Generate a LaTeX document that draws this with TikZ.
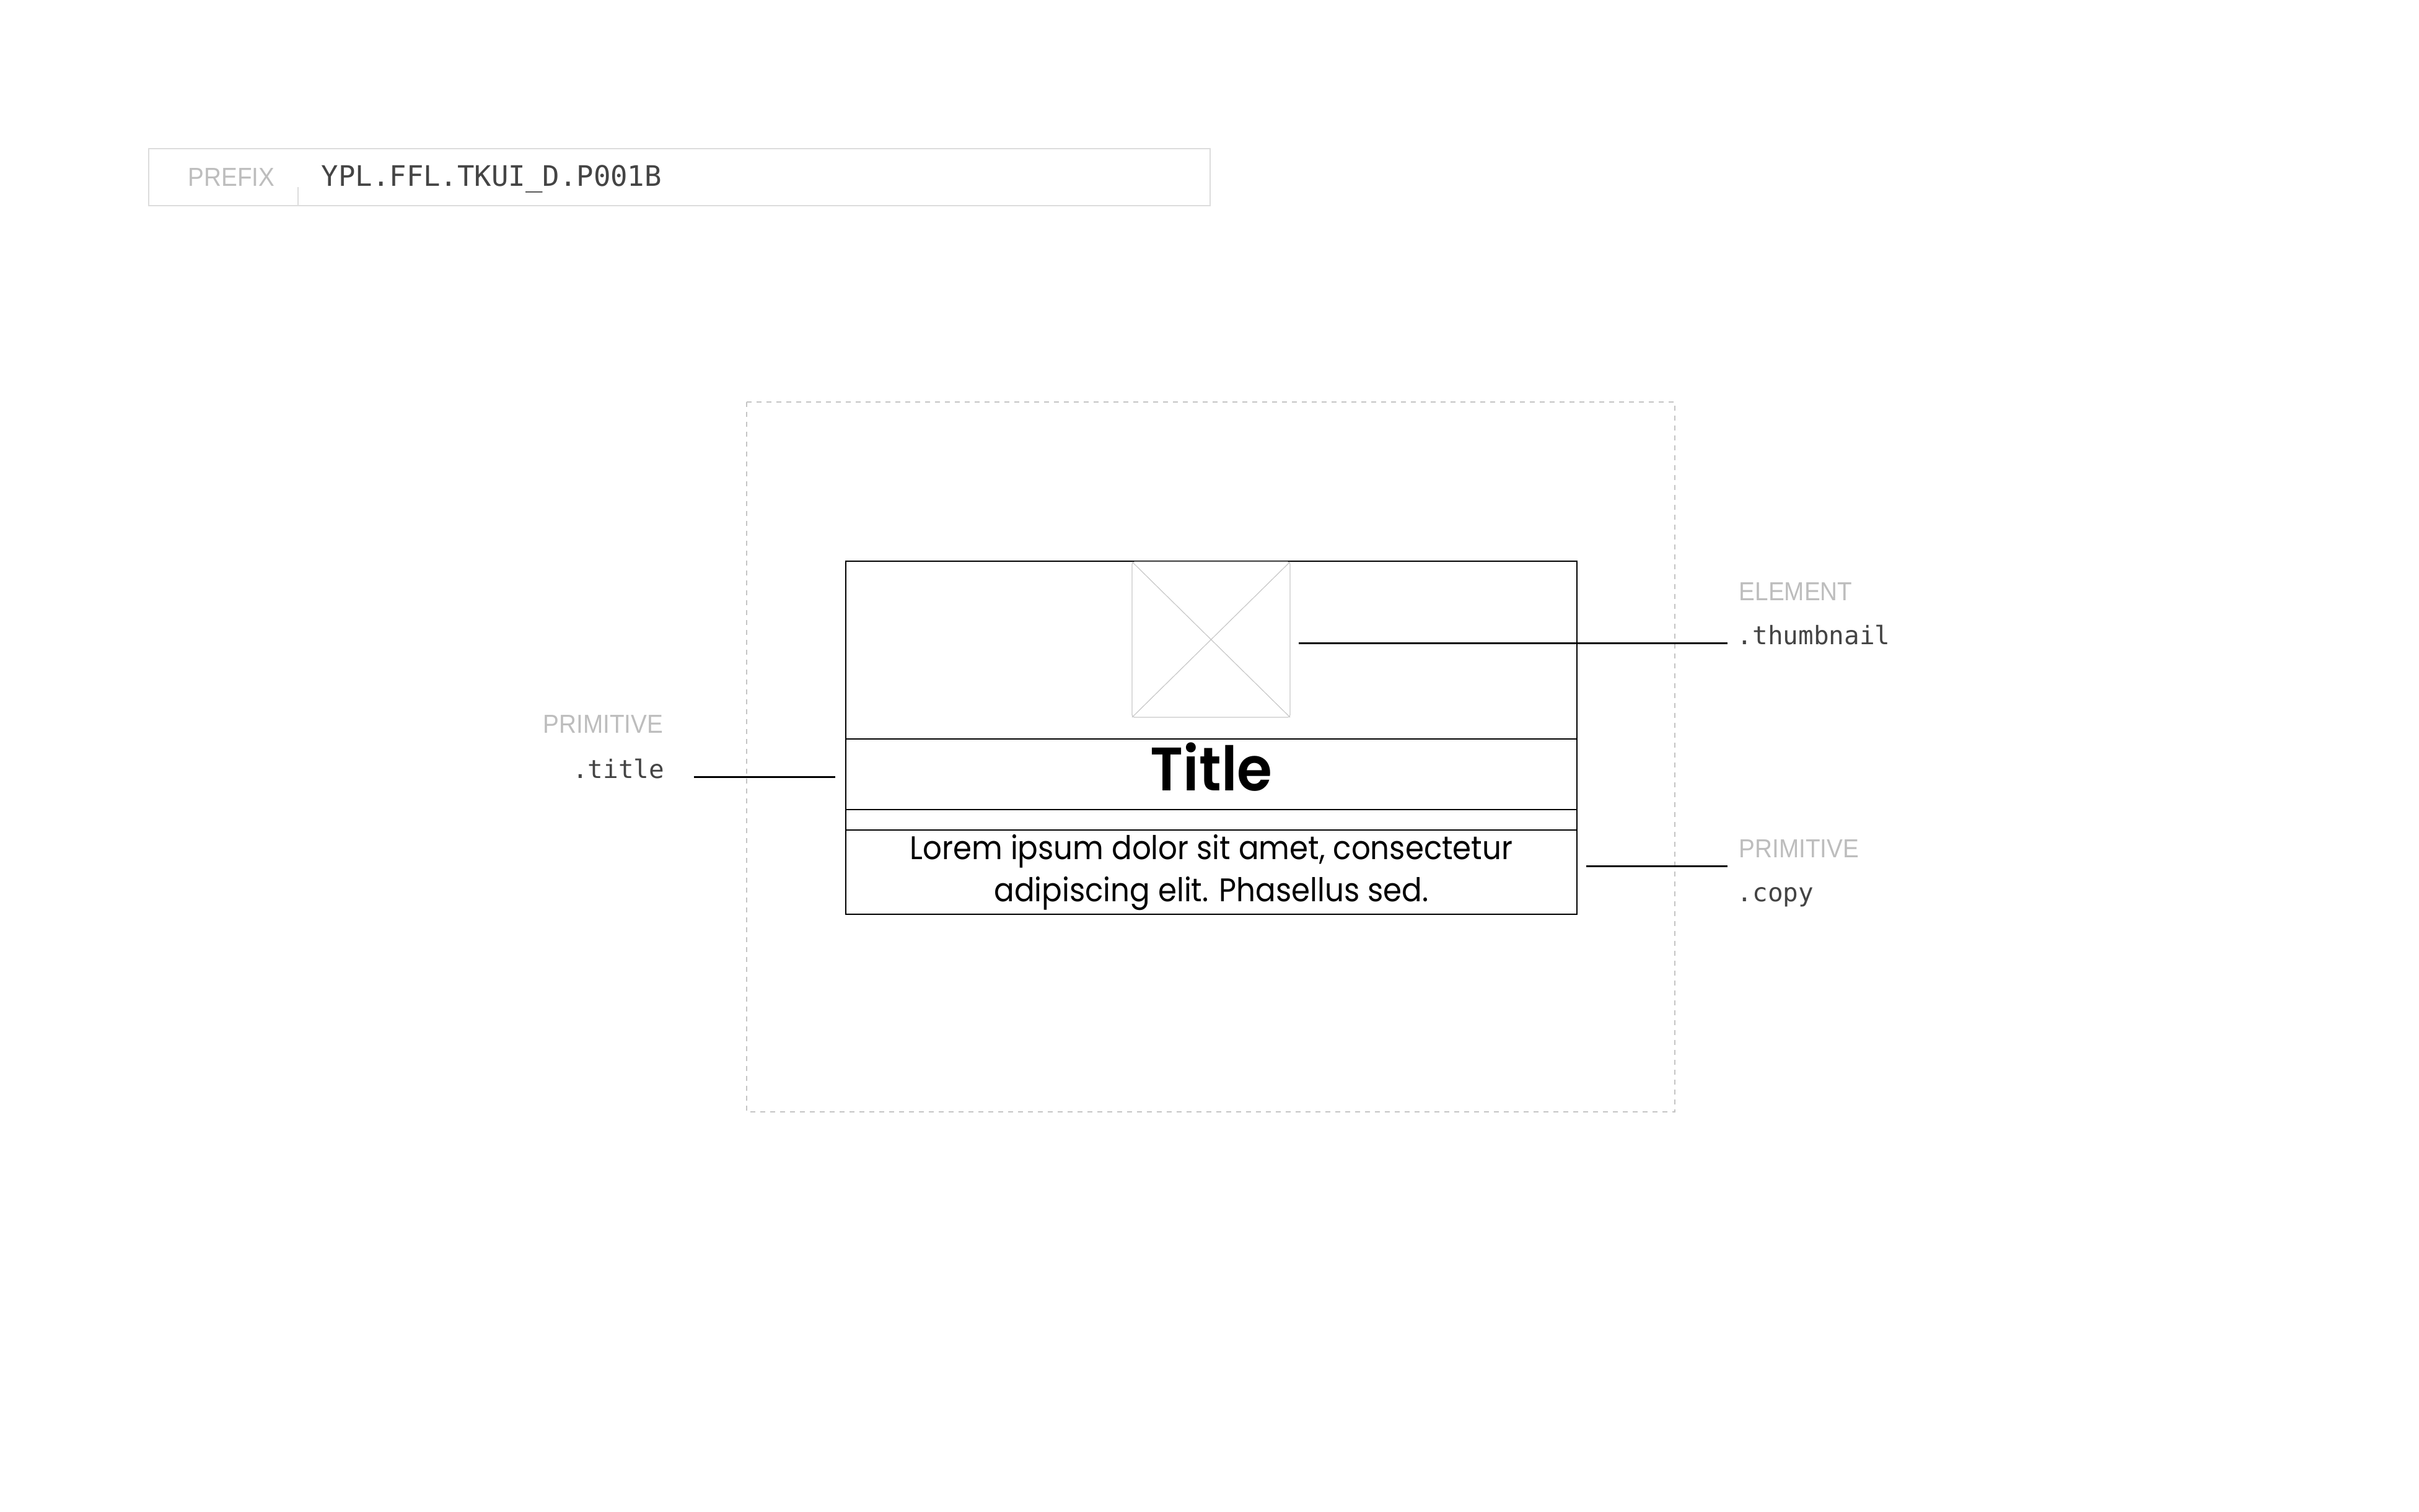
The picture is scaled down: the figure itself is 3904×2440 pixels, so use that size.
\documentclass[tikz,border=0pt]{standalone}
\usepackage{fontspec}
\setmainfont{Liberation Sans}
\newfontfamily\graysans[FakeStretch=0.92]{Liberation Sans}
\newfontfamily\monof{DejaVu Sans Mono}
\newfontfamily\cardfont[FakeStretch=0.915]{Poppins}
\newfontfamily\titlefont[FakeStretch=0.93]{Poppins SemiBold}
\definecolor{lblgray}{HTML}{BDBDBD}
\definecolor{monogray}{HTML}{444444}
\definecolor{boxgray}{HTML}{DCDCDC}
\definecolor{dashgray}{HTML}{C4C4C4}
\definecolor{thumbgray}{HTML}{C8C8C8}
\begin{document}
\begin{tikzpicture}[x=0.25pt,y=-0.25pt,
  grayl/.style={font=\graysans\fontsize{10.5}{12}\selectfont, text=lblgray, inner sep=0},
  monol/.style={font=\monof\fontsize{10.25}{12}\selectfont, text=monogray, inner sep=0},
  monop/.style={font=\monof\fontsize{11.4}{13}\selectfont, text=monogray, inner sep=0},
  leader/.style={line width=0.75pt, black},
  cardline/.style={line width=0.55pt, black},
  copytext/.style={font=\cardfont\fontsize{13.2}{15}\selectfont, inner sep=0},
  titletext/.style={font=\titlefont\fontsize{24.75}{28}\selectfont, inner sep=0}]
\useasboundingbox[fill=white] (0,0) rectangle (3904,2440);

% prefix bar
\draw[boxgray, line width=0.5pt] (240,240) rectangle (1953,332);
\coordinate (divtop) at (481,302);
\coordinate (divbot) at (481,332);
\draw[boxgray, line width=0.3pt] (divtop) -- (divbot);
\node[grayl, anchor=base west] (prefixlbl) at (303,300) {PREFIX};
\node[monop, anchor=base west] (prefixval) at (518,300) {YPL.FFL.TKUI\_D.P001B};

% dashed frame
\draw[dashgray, line width=0.5pt, dash pattern=on 2pt off 2pt] (1205,649) rectangle (2703,1795);

% card
\coordinate (cardtl) at (1365,906);
\coordinate (cardbr) at (2545,1476);
\draw[cardline] (cardtl) rectangle (cardbr);
\draw[cardline] (1365,1193) -- (2545,1193);
\draw[cardline] (1365,1307) -- (2545,1307);
\draw[cardline] (1365,1340) -- (2545,1340);

% thumbnail placeholder
\coordinate (thtl) at (1827,907);
\coordinate (thbr) at (2082,1158);
\draw[thumbgray, line width=0.3pt, rounded corners=1pt] (thtl) rectangle (thbr);
\draw[thumbgray, line width=0.3pt] (1827,907) -- (2082,1158) (2082,907) -- (1827,1158);

% texts in card
\node[titletext, anchor=base] (title) at (1955,1276) {Title};
\node[copytext, anchor=base] (copyA) at (1955,1387) {Lorem ipsum dolor sit amet, consectetur};
\node[copytext, anchor=base] (copyB) at (1955,1455) {adipiscing elit. Phasellus sed.};

% labels
\node[grayl, anchor=base west] (elemlbl) at (2806,969) {ELEMENT};
\node[monol, anchor=base west] (thumblbl) at (2803,1040) {.thumbnail};
\node[grayl, anchor=base west] (primlblR) at (2806,1384) {PRIMITIVE};
\node[monol, anchor=base west] (copylbl) at (2803,1455) {.copy};
\node[grayl, anchor=base east] (primlblL) at (1071,1183) {PRIMITIVE};
\node[monol, anchor=base east] (titlelbl) at (1073,1256) {.title};

% leaders
\coordinate (thA) at (2096,1038);
\coordinate (thB) at (2788,1038);
\draw[leader] (thA) -- (thB);
\coordinate (tiA) at (1120,1254);
\coordinate (tiB) at (1348,1254);
\draw[leader] (tiA) -- (tiB);
\coordinate (coA) at (2560,1398);
\coordinate (coB) at (2788,1398);
\draw[leader] (coA) -- (coB);
\end{tikzpicture}
\end{document}
